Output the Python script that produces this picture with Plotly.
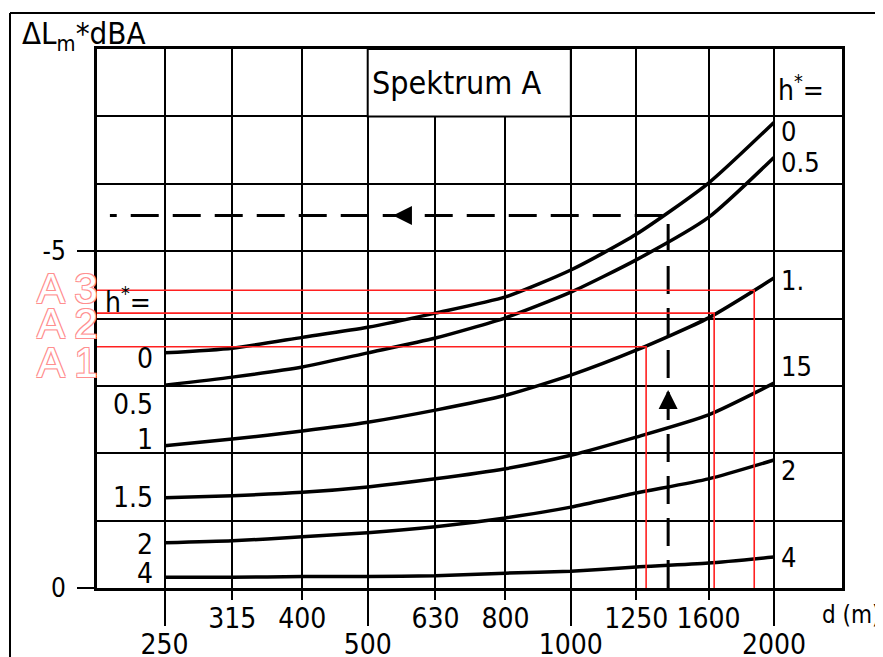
import math
import plotly.graph_objects as go

# ---------------- data ----------------
d_grid = [250, 315, 400, 500, 630, 800, 1000, 1250, 1600, 2000]
upper_ticks = [315, 400, 630, 800, 1250, 1600]
lower_ticks = [250, 500, 1000, 2000]

h_names = ["0", "0.5", "1", "1.5", "2", "4"]
dL_h0 = [-3.49, -3.56, -3.72, -3.87, -4.08, -4.32, -4.72, -5.25, -6.01, -6.91]
dL_h05 = [-3.01, -3.13, -3.28, -3.49, -3.71, -4.01, -4.39, -4.87, -5.50, -6.39]
dL_h1 = [-2.11, -2.21, -2.33, -2.46, -2.64, -2.86, -3.16, -3.53, -4.01, -4.60]
dL_h15 = [-1.34, -1.37, -1.42, -1.50, -1.62, -1.77, -1.97, -2.24, -2.57, -3.04]
dL_h2 = [-0.67, -0.70, -0.76, -0.82, -0.91, -1.04, -1.20, -1.41, -1.62, -1.90]
dL_h4 = [-0.16, -0.16, -0.17, -0.17, -0.18, -0.22, -0.25, -0.31, -0.37, -0.46]
curves = [dL_h0, dL_h05, dL_h1, dL_h15, dL_h2, dL_h4]

right_labels = ["0", "0.5", "1.", "15", "2", "4"]
right_label_y = [-6.78, -6.32, -4.57, -3.29, -1.74, -0.45]
left_labels = ["0", "0.5", "1", "1.5", "2", "4"]
left_label_y = [-3.40, -2.72, -2.20, -1.34, -0.64, -0.21]

A_names = ["A 1", "A 2", "A 3"]
A_d = [1293, 1631, 1870]
A_dL = [-3.58, -4.08, -4.42]
A_label_y = [-3.34, -3.93, -4.45]

example_d = 1394
example_dL = -5.53
arrow_up_dL = -2.94
arrow_left_d = 545

y_major = [-5, 0]
y_minor = [-8, -7, -6, -4, -3, -2, -1]

# ---------------- figure ----------------
FONT = "DejaVu Sans Condensed, DejaVu Sans, sans-serif"
x_range = [math.log10(198.5), math.log10(2523)]
x_left = 10 ** x_range[0]

# page body has an 8px margin; the figure is sized to fit the window
OFF = 8
W, H = 883 - OFF, 657 - OFF
L, T = 97 - OFF, 49 - OFF
PW, PH = 745, 539


def px_x(px):
    return (px - OFF - L) / PW


def px_y(py):
    return (T + PH - (py - OFF)) / PH


fig = go.Figure()

for ys in curves:
    fig.add_trace(go.Scatter(x=d_grid, y=ys, mode="lines",
                             line=dict(color="black", width=3.5, shape="spline", smoothing=0.6),
                             showlegend=False, hoverinfo="skip"))

# dashed example path
fig.add_trace(go.Scatter(x=[example_d, example_d, x_left * 1.045], y=[0, example_dL, example_dL],
                         mode="lines", line=dict(color="black", width=3, dash="28px,14px"),
                         showlegend=False, hoverinfo="skip"))
fig.add_trace(go.Scatter(x=[example_d], y=[arrow_up_dL], mode="markers",
                         marker=dict(symbol="arrow-up", size=19, color="black"),
                         showlegend=False, hoverinfo="skip"))
fig.add_trace(go.Scatter(x=[arrow_left_d], y=[example_dL], mode="markers",
                         marker=dict(symbol="arrow-left", size=19, color="black"),
                         showlegend=False, hoverinfo="skip"))

# red construction lines
for d, v in zip(A_d, A_dL):
    fig.add_trace(go.Scatter(x=[x_left, d, d], y=[v, v, 0], mode="lines",
                             line=dict(color="#ff2020", width=1.6),
                             showlegend=False, hoverinfo="skip", cliponaxis=False))

# dummy trace for the overlaying axis
fig.add_trace(go.Scatter(x=lower_ticks, y=[None] * len(lower_ticks), xaxis="x2", yaxis="y",
                         mode="lines", showlegend=False, hoverinfo="skip"))

ann = []
for t, y in zip(right_labels, right_label_y):
    ann.append(dict(text=t, x=px_x(779), xref="paper", y=y, yref="y",
                    xanchor="left", yanchor="middle", showarrow=False,
                    font=dict(family=FONT, size=27, color="black")))
for t, y in zip(left_labels, left_label_y):
    ann.append(dict(text=t, x=px_x(155), xref="paper", y=y, yref="y",
                    xanchor="right", yanchor="middle", showarrow=False,
                    font=dict(family=FONT, size=28, color="black")))
ann.append(dict(text="h<sup>*</sup>=", x=px_x(776), xref="paper", y=-7.42, yref="y",
                xanchor="left", yanchor="middle", showarrow=False,
                font=dict(family=FONT, size=28, color="black")))
ann.append(dict(text="h<sup>*</sup>=", x=px_x(103), xref="paper", y=-4.27, yref="y",
                xanchor="left", yanchor="middle", showarrow=False,
                font=dict(family=FONT, size=28, color="black")))
for t, y in zip(A_names, A_label_y):
    ann.append(dict(text=t, x=px_x(67), xref="paper", y=y, yref="y",
                    xanchor="center", yanchor="middle", showarrow=False,
                    font=dict(family="Liberation Sans, DejaVu Sans, sans-serif", size=42, color="white",
                              shadow="1px 1px 0 #ff8f8f, -1px -1px 0 #ff8f8f, 1px -1px 0 #ff8f8f, -1px 1px 0 #ff8f8f")))
ann.append(dict(text="Spektrum A", x=px_x(457), xref="paper", y=px_y(83), yref="paper",
                xanchor="center", yanchor="middle", showarrow=False,
                font=dict(family=FONT, size=32, color="black")))
ann.append(dict(text="ΔL<sub>m</sub>*dBA", x=px_x(20), xref="paper", y=px_y(36), yref="paper",
                xanchor="left", yanchor="middle", showarrow=False,
                font=dict(family=FONT, size=31, color="black")))
ann.append(dict(text="d (m)", x=px_x(820), xref="paper", y=px_y(615), yref="paper",
                xanchor="left", yanchor="middle", showarrow=False,
                font=dict(family=FONT, size=24, color="black")))

shapes = [
    dict(type="rect", xref="x", yref="y", x0=500, x1=1000, y0=-8, y1=-7,
         fillcolor="white", line=dict(color="black", width=2), layer="above"),
    dict(type="line", xref="paper", yref="paper", x0=px_x(10), x1=1.2,
         y0=px_y(13), y1=px_y(13), line=dict(color="black", width=2)),
    dict(type="line", xref="paper", yref="paper", x0=px_x(10), x1=px_x(10),
         y0=px_y(13), y1=-0.2, line=dict(color="black", width=2)),
]

fig.update_layout(
    width=W, height=H, autosize=False,
    margin=dict(l=L, r=W - L - PW, t=T, b=H - T - PH, autoexpand=False),
    paper_bgcolor="white", plot_bgcolor="white",
    annotations=ann, shapes=shapes,
    xaxis=dict(type="log", range=x_range, tickmode="array", tickvals=upper_ticks,
               ticktext=[str(v) for v in upper_ticks], ticks="outside", ticklen=9, tickwidth=2,
               tickcolor="black", showgrid=True, gridcolor="black", gridwidth=2, tickangle=0,
               automargin=False, ticklabelstandoff=-6,
               showline=True, linecolor="black", linewidth=3, mirror=True, zeroline=False,
               tickfont=dict(family=FONT, size=28, color="black")),
    xaxis2=dict(type="log", range=x_range, overlaying="x", anchor="y", side="bottom",
                tickmode="array", tickvals=lower_ticks, ticktext=[str(v) for v in lower_ticks],
                ticks="outside", ticklen=37, tickwidth=2, tickcolor="black", tickangle=0,
                automargin=False, ticklabelstandoff=-6,
                showgrid=True, gridcolor="black", gridwidth=2, showline=False, zeroline=False,
                tickfont=dict(family=FONT, size=28, color="black")),
    yaxis=dict(range=[0, -8], tickmode="array", tickvals=y_major, ticktext=["-5", "0"],
               ticks="outside", ticklen=17, tickwidth=2, tickcolor="black", automargin=False,
               ticklabelstandoff=6,
               showgrid=True, gridcolor="black", gridwidth=2,
               minor=dict(tickmode="array", tickvals=y_minor, ticks="", showgrid=True,
                          gridcolor="black", gridwidth=2),
               showline=True, linecolor="black", linewidth=3, mirror=True, zeroline=False,
               tickfont=dict(family=FONT, size=26, color="black")),
)

fig.write_html("out.html")
